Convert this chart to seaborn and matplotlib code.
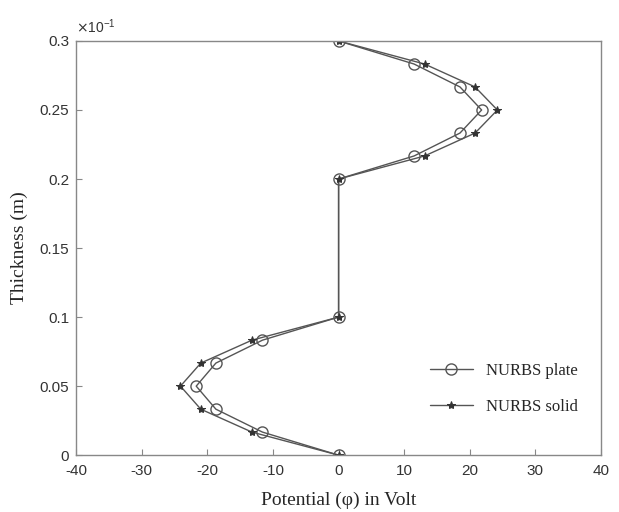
import numpy as np
import pandas as pd
import seaborn as sns
import matplotlib.pyplot as plt

# thickness in units of 1e-1 m (axis shows x10^-1)
thickness = [0.0, 0.0167, 0.0333, 0.05, 0.0667, 0.0833, 0.1,
             0.2, 0.2167, 0.2333, 0.25, 0.2667, 0.2833, 0.3]
phi_plate = [0.0, -11.6, -18.7, -21.7, -18.7, -11.6, 0.0,
             0.0, 11.5, 18.5, 21.8, 18.5, 11.5, 0.0]
phi_solid = [0.0, -13.2, -21.0, -24.1, -21.0, -13.2, 0.0,
             0.0, 13.1, 20.8, 24.2, 20.8, 13.1, 0.0]

sns.set_style("white")
plt.rcParams['axes.unicode_minus'] = False
plt.rcParams['font.family'] = ['Liberation Sans', 'DejaVu Sans']

fig = plt.figure(figsize=(6.19, 5.12), dpi=100)
ax = fig.add_axes([0.123, 0.111, 0.848, 0.809])

sns.lineplot(x=phi_plate, y=thickness, sort=False, estimator=None, ax=ax,
             color='#555555', lw=1.0, marker='o', markersize=8,
             markerfacecolor='none', markeredgecolor='#555555', markeredgewidth=1.0,
             label='NURBS plate')
sns.lineplot(x=phi_solid, y=thickness, sort=False, estimator=None, ax=ax,
             color='#555555', lw=1.0, marker='*', markersize=6,
             markerfacecolor='#333333', markeredgecolor='#333333',
             label='NURBS solid')

ax.set_xlim(-40, 40)
ax.set_ylim(0, 0.3)
ax.set_xticks(np.arange(-40, 41, 10))
ax.set_yticks([0, 0.05, 0.1, 0.15, 0.2, 0.25, 0.3])
ax.set_yticklabels(['0', '0.05', '0.1', '0.15', '0.2', '0.25', '0.3'])

for s in ax.spines.values():
    s.set_color('#888888')
    s.set_linewidth(1.0)
ax.tick_params(direction='in', length=4, color='#888888', labelsize=11,
               labelcolor='#333333', bottom=True, left=True)
ax.tick_params(axis='x', pad=6)
ax.tick_params(axis='y', pad=5)

ax.set_xlabel('Potential (\u03c6) in Volt', family='Liberation Serif', fontsize=14, labelpad=10)
ax.set_ylabel('Thickness (m)', family='Liberation Serif', fontsize=14, labelpad=8)
ax.text(0.0, 1.012, r'$\times\mathregular{10^{-1}}$', transform=ax.transAxes, fontsize=10,
        color='#333333', ha='left', va='bottom')

leg = ax.legend(loc='center right', bbox_to_anchor=(0.985, 0.16), frameon=False,
                prop={'family': 'Liberation Serif', 'size': 12},
                handlelength=2.6, labelspacing=1.2)

fig.savefig('out.png', dpi=100)
